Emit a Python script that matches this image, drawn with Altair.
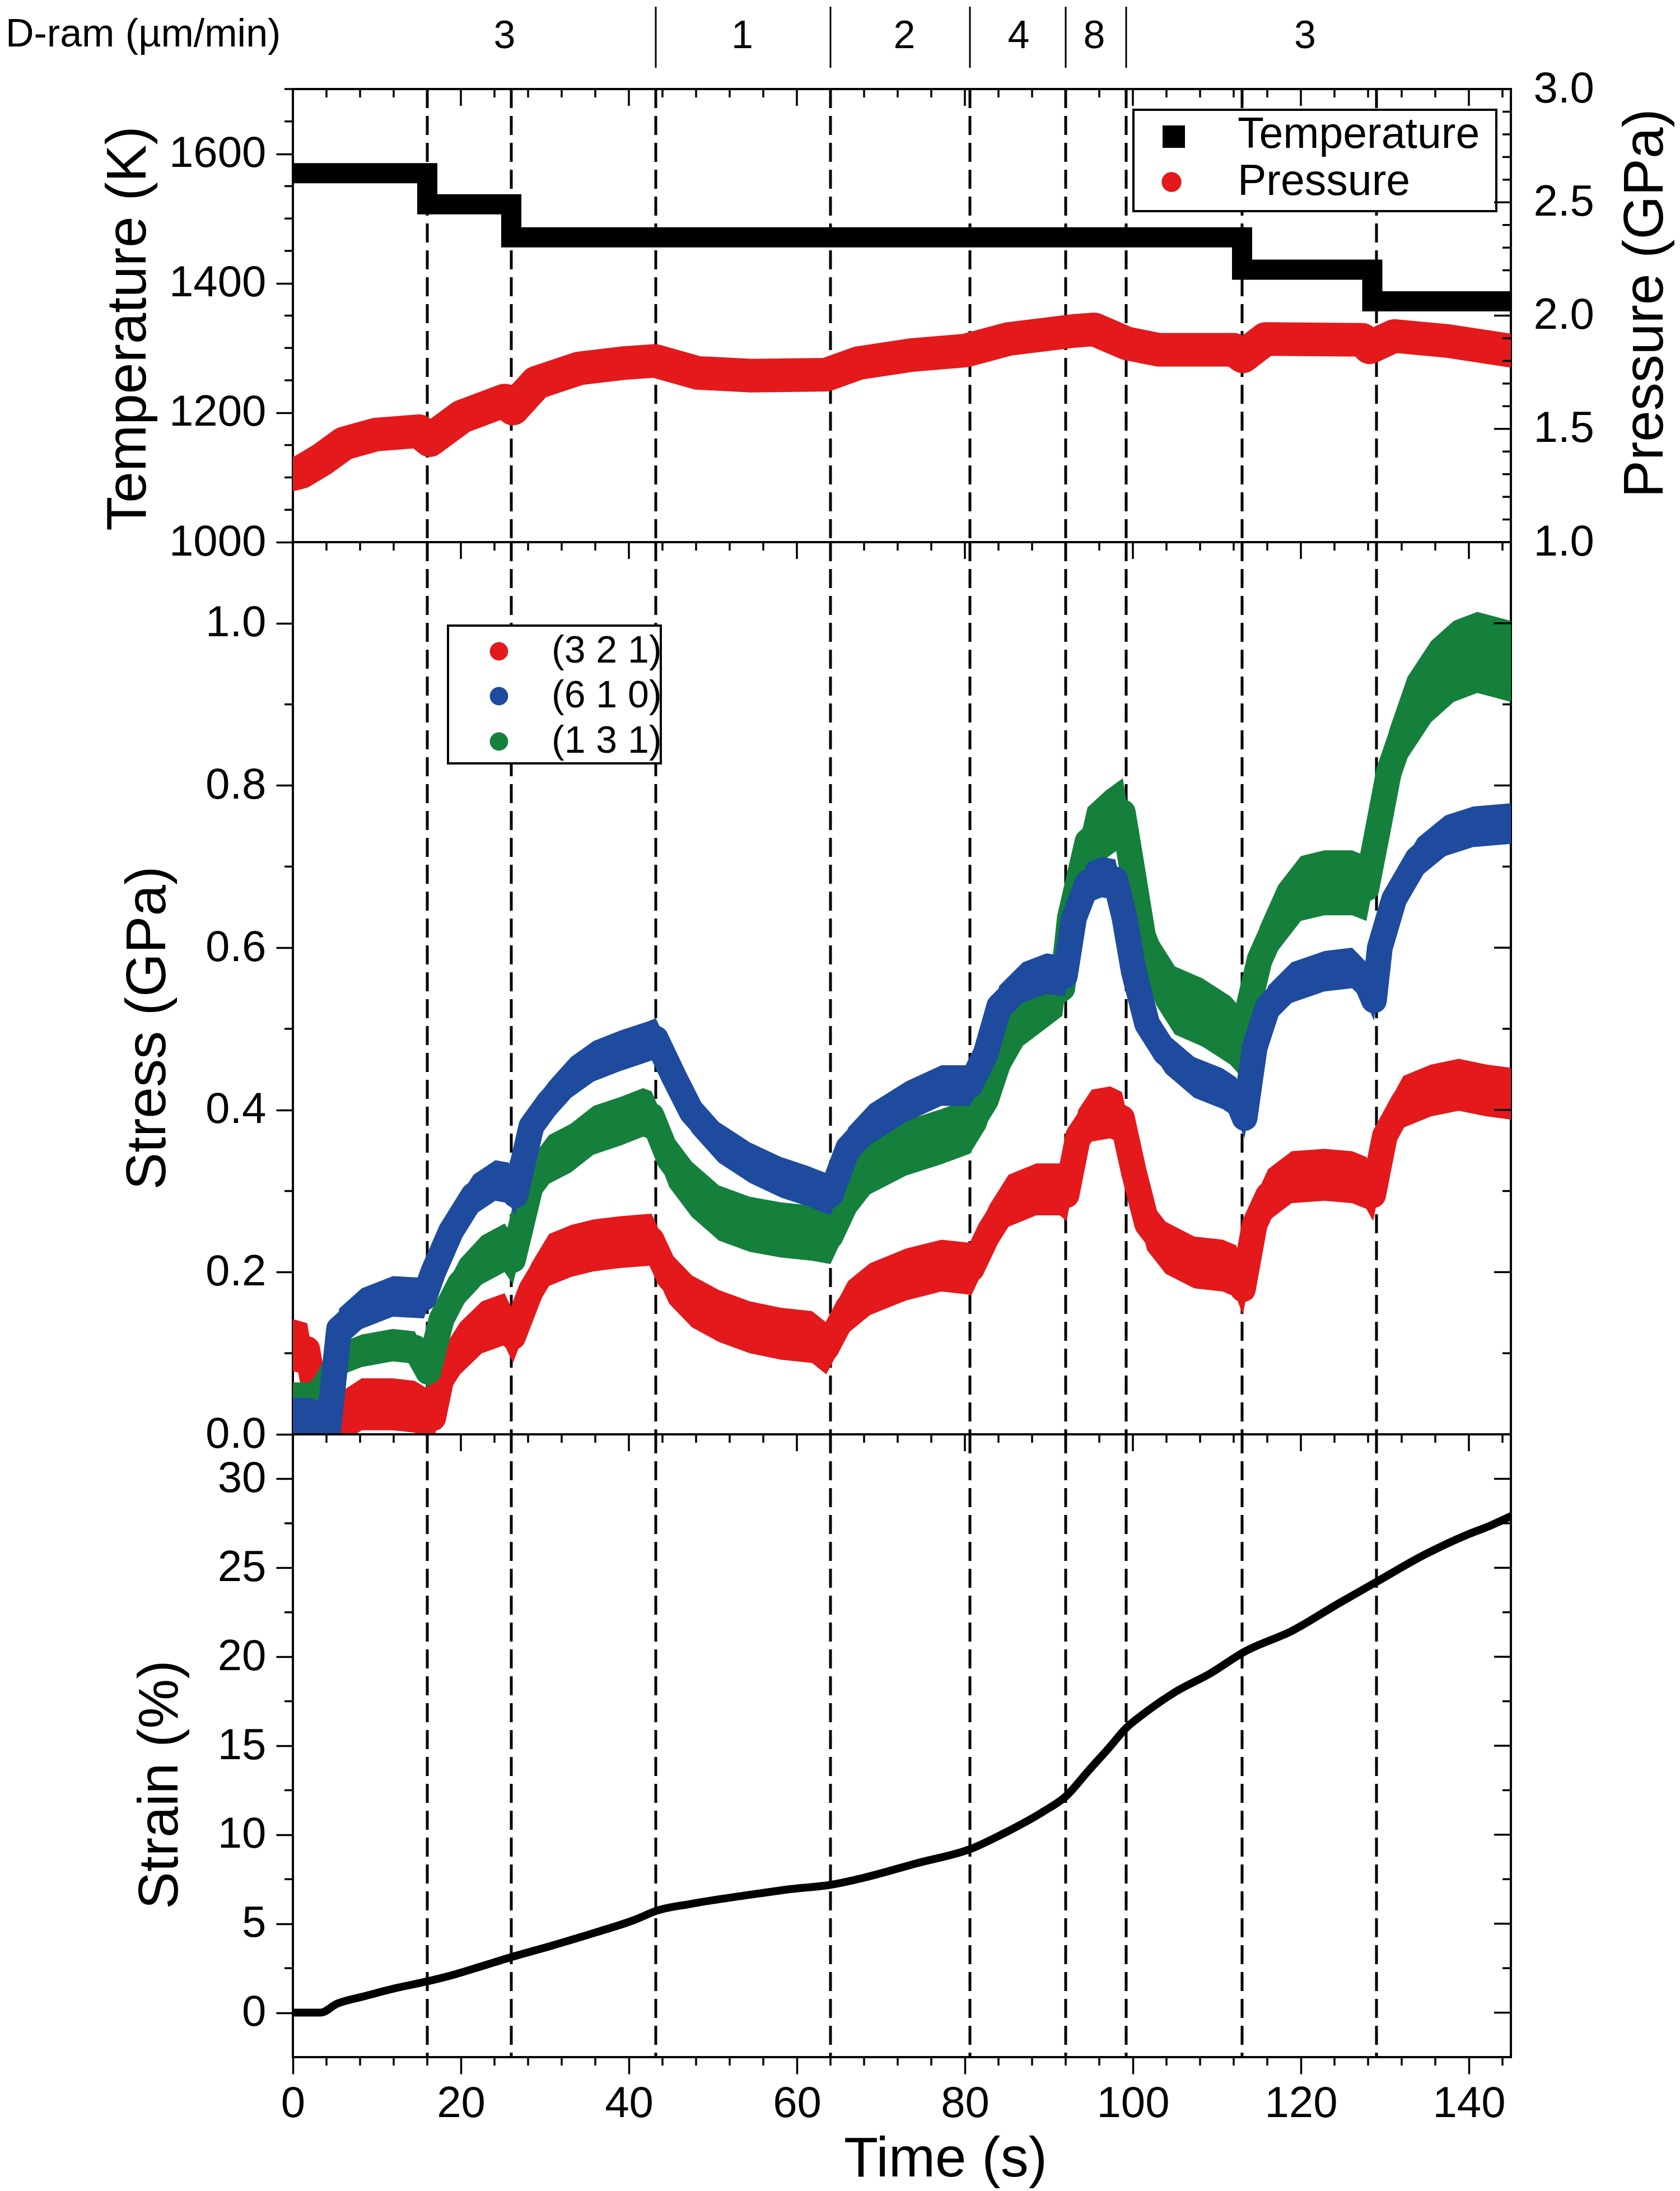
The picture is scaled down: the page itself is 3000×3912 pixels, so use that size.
import altair as alt
import pandas as pd

FONT = "Liberation Sans"
W = 2175
H_TOP, H_MID, H_BOT = 809, 1593, 1112
TW = 3.5
RED = "#E3191C"
BLUE = "#1E4B9E"
GREEN = "#15803C"
U = alt.Undefined

# ---------------- data ----------------
dash_times = [16, 26, 43.2, 64, 80.6, 92, 99.2, 113, 129]
ram_edges = [43.2, 64, 80.6, 92, 99.2]
ram_label_t = [25.2, 53.5, 72.8, 86.4, 95.4, 120.5]
ram_labels = ["3", "1", "2", "4", "8", "3"]
ram_title = ["D-ram (\u00b5m/min)"]

temp_t = [0, 16, 26, 113, 128.5, 145]
temp_k = [1570, 1522, 1471, 1421, 1372, 1372]

press_t = [0, 1, 3.5, 6.1, 9.9, 15, 16.3, 20.1, 25.2, 26.2, 29, 34.1, 39.3, 43.1,
           48.2, 54.6, 63.5, 67.3, 73.7, 80.1, 85.2, 92.9, 95.4, 99.3, 103.1, 112,
           113.1, 115.8, 127.3, 128.2, 131.1, 137.5, 145]
press_gpa = [1.30, 1.31, 1.366, 1.436, 1.475, 1.49, 1.45, 1.554, 1.625, 1.59, 1.704,
             1.767, 1.79, 1.80, 1.747, 1.735, 1.739, 1.79, 1.826, 1.846, 1.897, 1.932,
             1.939, 1.877, 1.849, 1.849, 1.82, 1.897, 1.893, 1.86, 1.91, 1.888, 1.845]

red_t = [0, 1.7, 2.3, 3.9, 5.5, 8.2, 11.9, 14.5, 16.7, 17.7, 19.9, 22.5, 25.2, 26.2,
         28.4, 30.5, 33.1, 35.8, 39, 42.7, 44.8, 47.5, 50.7, 54.4, 58.1, 61.8, 63.5,
         66.1, 68.7, 73, 77.2, 80.8, 83, 85.2, 88.5, 91.3, 92.1, 93.5, 95.1, 97.3,
         98.7, 100.1, 101.7, 103.9, 107.3, 110.7, 112.3, 113.1, 114.5, 116.1, 118.9,
         122.8, 126.1, 127.8, 128.6, 130, 132.2, 135.5, 138.8, 142.1, 145]
red_v = [0.11, 0.105, 0.07, 0.026, 0.019, 0.037, 0.037, 0.034, 0.02, 0.07, 0.106,
         0.132, 0.142, 0.12, 0.179, 0.215, 0.226, 0.233, 0.237, 0.24, 0.193, 0.164,
         0.146, 0.132, 0.124, 0.12, 0.106, 0.157, 0.179, 0.197, 0.208, 0.204, 0.252,
         0.288, 0.302, 0.302, 0.295, 0.368, 0.393, 0.397, 0.39, 0.324, 0.259, 0.23,
         0.212, 0.208, 0.201, 0.179, 0.259, 0.295, 0.317, 0.32, 0.317, 0.31, 0.295,
         0.368, 0.41, 0.424, 0.431, 0.424, 0.42]
red_err = 0.032

blue_t = [0, 2, 3.5, 4.2, 5.5, 8.2, 11.9, 15.6, 16.7, 18.8, 21.5, 24.1, 25.7, 26.5,
          28.4, 30.5, 33.1, 35.8, 39, 42.2, 43.2, 45.4, 47.5, 50.7, 54.4, 58.1, 61.3,
          64, 66.1, 68.7, 73, 77.2, 80.6, 82.5, 84.1, 86.9, 89.7, 91.9, 93, 94.6, 96.3,
          97.9, 99, 100.1, 101.7, 103.9, 107.3, 110.7, 112.3, 113.3, 114.5, 116.1,
          118.9, 122.8, 126.1, 127.8, 128.7, 129.4, 131.1, 133.9, 137.2, 140.5, 145]
blue_v = [0.02, 0.02, 0.015, 0.005, 0.13, 0.155, 0.17, 0.168, 0.2, 0.25, 0.295, 0.313,
          0.31, 0.295, 0.38, 0.41, 0.44, 0.46, 0.473, 0.484, 0.488, 0.44, 0.397, 0.36,
          0.335, 0.317, 0.306, 0.295, 0.353, 0.382, 0.41, 0.43, 0.43, 0.47, 0.528,
          0.557, 0.568, 0.565, 0.637, 0.68, 0.687, 0.684, 0.637, 0.571, 0.506, 0.47,
          0.44, 0.426, 0.415, 0.39, 0.477, 0.528, 0.557, 0.571, 0.575, 0.557, 0.535,
          0.6, 0.66, 0.71, 0.738, 0.749, 0.753]
blue_err = 0.025

green_t = [0, 2.5, 3.9, 5.5, 8.2, 11.9, 14.5, 16.1, 17.7, 19.9, 22.5, 25.2, 26.2, 28.4,
           30.5, 33.1, 35.8, 39, 41.7, 42.7, 44.8, 47.5, 50.7, 54.4, 58.1, 61.8, 64,
           66.6, 68.7, 73, 77.2, 80.6, 82.5, 84.1, 86.9, 89.7, 91.6, 92.5, 94.6, 96.8,
           98.8, 99.6, 101.2, 102.8, 105, 108.3, 111.6, 112.8, 115.1, 117.3, 120, 122.8,
           126.1, 127.8, 128.9, 130.5, 132.7, 135.5, 138.2, 141, 145]
green_v = [0.044, 0.044, 0.063, 0.092, 0.103, 0.11, 0.107, 0.077, 0.142, 0.186, 0.215,
           0.23, 0.215, 0.31, 0.339, 0.353, 0.375, 0.386, 0.397, 0.393, 0.339, 0.302,
           0.273, 0.259, 0.252, 0.248, 0.244, 0.302, 0.33, 0.353, 0.367, 0.38, 0.412,
           0.462, 0.513, 0.535, 0.55, 0.637, 0.731, 0.752, 0.767, 0.717, 0.615, 0.571,
           0.535, 0.52, 0.498, 0.484, 0.586, 0.637, 0.673, 0.68, 0.68, 0.673, 0.731,
           0.818, 0.884, 0.928, 0.953, 0.964, 0.953]
green_err = [0.02, 0.02, 0.02, 0.02, 0.02, 0.02, 0.02, 0.02,
             0.03, 0.03, 0.03, 0.03, 0.03, 0.03, 0.03, 0.03, 0.03, 0.03, 0.03, 0.03,
             0.034, 0.034, 0.034, 0.034, 0.034, 0.034, 0.034, 0.034, 0.034, 0.034,
             0.034,
             0.034, 0.034, 0.034, 0.034, 0.034, 0.034,
             0.042, 0.042, 0.042, 0.042, 0.042, 0.042, 0.042, 0.042, 0.042, 0.042, 0.042,
             0.04, 0.04, 0.04, 0.04, 0.04, 0.04, 0.04,
             0.05, 0.05, 0.05, 0.05, 0.05, 0.05]

strain_t = [0, 3.3, 5.2, 8.5, 11.9, 16, 19.05, 22.4, 26.2, 30.7, 36.2, 40.6, 43.4, 47.2,
            53.9, 59.4, 64.1, 67.7, 74.3, 80.9, 84.9, 89.2, 92, 94.7, 97.3, 99.2, 101.1,
            105, 109.2, 113.2, 119, 124.5, 129, 134.7, 139.8, 142.4, 145]
strain_pct = [0, 0, 0.49, 0.92, 1.34, 1.76, 2.12, 2.6, 3.15, 3.75, 4.53, 5.2, 5.74, 6.1,
              6.59, 6.95, 7.19, 7.55, 8.4, 9.24, 10.14, 11.26, 12.15, 13.59, 14.96, 16.0,
              16.73, 18.01, 19.06, 20.26, 21.47, 23.0, 24.21, 25.73, 26.86, 27.34, 27.9]

legend_top = ["Temperature", "Pressure"]
legend_mid = ["(3 2 1)", "(6 1 0)", "(1 3 1)"]

# tick positions
x_major = [0, 20, 40, 60, 80, 100, 120, 140]
x_minor = [v for v in range(0, 146, 4) if v % 20 != 0]
temp_major = [1000, 1200, 1400, 1600]
temp_minor = [v for v in range(1050, 1701, 50) if v % 200 != 0]
press_major = [1.0, 1.5, 2.0, 2.5, 3.0]
press_minor = [round(1.0 + 0.1 * i, 1) for i in range(21) if i % 5 != 0]
stress_major = [0.0, 0.2, 0.4, 0.6, 0.8, 1.0]
stress_minor = [0.1, 0.3, 0.5, 0.7, 0.9]
strain_major = [0, 5, 10, 15, 20, 25, 30]
strain_minor = [2.5, 7.5, 12.5, 17.5, 22.5, 27.5]

# ---------------- scales ----------------
xs = alt.Scale(domain=[0, 145], nice=False, zero=False)
ys_temp = alt.Scale(domain=[1000, 1700], nice=False, zero=False)
ys_press = alt.Scale(domain=[1.0, 3.0], nice=False, zero=False)
ys_stress = alt.Scale(domain=[0, 1.1], nice=False, zero=False)
ys_strain = alt.Scale(domain=[-2.5, 32.5], nice=False, zero=False)

one = pd.DataFrame({"a": [0]})


def vals(v):
    return pd.DataFrame({"v": v})


def dashes(xax=None):
    return alt.Chart(pd.DataFrame({"t": dash_times})).mark_rule(
        color="black", strokeWidth=5, strokeDash=[34, 14]
    ).encode(x=alt.X("t:Q", scale=xs, axis=xax))


def top_ticks(values, length, xax=None):
    return alt.Chart(vals(values)).mark_rule(color="black", strokeWidth=TW).encode(
        x=alt.X("v:Q", scale=xs, axis=xax), y=alt.value(0), y2=alt.value(length))


def bottom_ticks_out(values, length, h, xax=None):
    return alt.Chart(vals(values)).mark_rule(color="black", strokeWidth=TW).encode(
        x=alt.X("v:Q", scale=xs, axis=xax), y=alt.value(h), y2=alt.value(h + length))


def left_ticks_out(values, length, scale):
    return alt.Chart(vals(values)).mark_rule(color="black", strokeWidth=TW).encode(
        y=alt.Y("v:Q", scale=scale), x=alt.value(-length), x2=alt.value(0))


def right_ticks_in(values, length, scale):
    return alt.Chart(vals(values)).mark_rule(color="black", strokeWidth=TW).encode(
        y=alt.Y("v:Q", scale=scale), x=alt.value(W - length), x2=alt.value(W))


def frame_ticks(yscale, ymin, rmaj, rmin, xax=None):
    return [
        top_ticks(x_major, 30, xax), top_ticks(x_minor, 15, xax),
        left_ticks_out(ymin, 15, yscale),
        right_ticks_in(rmaj, 30, yscale), right_ticks_in(rmin, 15, yscale),
    ]


def legend_text(label, x, y, size):
    return alt.Chart(pd.DataFrame({"label": [label]})).mark_text(
        align="left", baseline="middle", fontSize=size, font=FONT, color="black"
    ).encode(x=alt.value(x), y=alt.value(y), text="label:N")


def legend_symbol(shape, color, size, x, y):
    return alt.Chart(one).mark_point(
        shape=shape, filled=True, size=size, color=color, opacity=1, strokeWidth=0
    ).encode(x=alt.value(x), y=alt.value(y))


def legend_box(x1, x2, y1, y2):
    return alt.Chart(one).mark_rect(fill="white", stroke="black", strokeWidth=4).encode(
        x=alt.value(x1), x2=alt.value(x2), y=alt.value(y1), y2=alt.value(y2))


# ---------------- top panel ----------------
temp_df = pd.DataFrame({"t": temp_t, "k": temp_k})
press_df = pd.DataFrame({"t": press_t, "p": press_gpa})

temp_line = alt.Chart(temp_df).mark_line(
    color="black", strokeWidth=36, interpolate="step-after", strokeCap="butt",
    strokeJoin="miter", clip=True
).encode(
    x=alt.X("t:Q", scale=xs, axis=None),
    y=alt.Y("k:Q", scale=ys_temp, axis=alt.Axis(
        orient="left", values=temp_major, format="d", title="Temperature (K)",
        titleX=-294, titleY=427, titleBaseline="middle")),
)

press_line = alt.Chart(press_df).mark_line(
    color=RED, strokeWidth=60, strokeCap="round", strokeJoin="round", clip=True
).encode(
    x=alt.X("t:Q", scale=xs, axis=None),
    y=alt.Y("p:Q", scale=ys_press, axis=alt.Axis(
        orient="right", values=press_major, format=".1f", ticks=False, tickSize=0,
        labelPadding=40, title="Pressure (GPa)", titleX=240, titleY=382,
        titleAngle=270, titleBaseline="middle")),
)

strip_sep = alt.Chart(pd.DataFrame({"t": ram_edges})).mark_rule(
    color="black", strokeWidth=3
).encode(x=alt.X("t:Q", scale=xs, axis=None), y=alt.value(-147), y2=alt.value(-38))

strip_text = alt.Chart(pd.DataFrame({"t": ram_label_t, "label": ram_labels})).mark_text(
    fontSize=70, font=FONT, baseline="middle", align="center", color="black"
).encode(x=alt.X("t:Q", scale=xs, axis=None), y=alt.value(-94), text="label:N")

dram_title = alt.Chart(pd.DataFrame({"label": ram_title})).mark_text(
    fontSize=70, font=FONT, baseline="middle", align="left", color="black"
).encode(x=alt.value(-513), y=alt.value(-97), text="label:N")

top_left = alt.layer(
    dashes(), temp_line,
    left_ticks_out(temp_minor, 15, ys_temp),
    top_ticks(x_major, 30), top_ticks(x_minor, 15),
    strip_sep, strip_text, dram_title,
    legend_box(1501, 2149, 37, 218),
    legend_symbol("square", "black", 1600, 1573, 85),
    legend_symbol("circle", RED, 1257, 1569, 166),
    legend_text(legend_top[0], 1687, 82, 77),
    legend_text(legend_top[1], 1687, 166, 77),
)
top_right = alt.layer(
    press_line,
    right_ticks_in(press_major, 30, ys_press),
    right_ticks_in(press_minor, 15, ys_press),
)
top = alt.layer(top_left, top_right).resolve_scale(y="independent").properties(
    width=W, height=H_TOP)

# ---------------- middle panel ----------------
def band_df(t, v, err):
    df = pd.DataFrame({"t": t, "s": v})
    e = pd.Series(err if isinstance(err, list) else [err] * len(t))
    df["lo"] = df["s"] - e
    df["hi"] = df["s"] + e
    return df


red_df = band_df(red_t, red_v, red_err)
blue_df = band_df(blue_t, blue_v, blue_err)
green_df = band_df(green_t, green_v, green_err)


def series(df, color, with_axis=False):
    yaxis = alt.Axis(orient="left", values=stress_major, format=".1f",
                     title="Stress (GPa)", titleX=-259, titleY=867,
                     titleBaseline="middle") if with_axis else U
    area = alt.Chart(df).mark_area(color=color, opacity=1, clip=True).encode(
        x=alt.X("t:Q", scale=xs, axis=None),
        y=alt.Y("lo:Q", scale=ys_stress, axis=yaxis),
        y2="hi:Q",
    )
    line = alt.Chart(df).mark_line(
        color=color, strokeWidth=46, strokeCap="round", strokeJoin="round", clip=True
    ).encode(
        x=alt.X("t:Q", scale=xs, axis=None),
        y=alt.Y("s:Q", scale=ys_stress),
    )
    return [area, line]


middle = alt.layer(
    dashes(),
    *series(red_df, RED, with_axis=True),
    *series(green_df, GREEN),
    *series(blue_df, BLUE),
    *frame_ticks(ys_stress, stress_minor, stress_major, stress_minor),
    legend_box(277, 657, 149, 395),
    legend_symbol("circle", RED, 1075, 368, 195),
    legend_symbol("circle", BLUE, 1075, 368, 275),
    legend_symbol("circle", GREEN, 1075, 368, 356),
    legend_text(legend_mid[0], 462, 195, 68),
    legend_text(legend_mid[1], 462, 275, 68),
    legend_text(legend_mid[2], 462, 356, 68),
).properties(width=W, height=H_MID)

# ---------------- bottom panel ----------------
strain_df = pd.DataFrame({"t": strain_t, "e": strain_pct})
strain_line = alt.Chart(strain_df).mark_line(
    color="black", strokeWidth=14, interpolate="monotone", strokeCap="round", clip=True
).encode(
    x=alt.X("t:Q", scale=xs, axis=alt.Axis(
        orient="bottom", values=x_major, format="d", title="Time (s)",
        titleX=1165, titleY=182, titleBaseline="middle", labelPadding=14)),
    y=alt.Y("e:Q", scale=ys_strain, axis=alt.Axis(
        orient="left", values=strain_major, format="d", title="Strain (%)",
        titleX=-237, titleY=625, titleBaseline="middle")),
)

bottom = alt.layer(
    dashes(U), strain_line,
    *frame_ticks(ys_strain, strain_minor, strain_major, strain_minor, U),
    bottom_ticks_out(x_minor, 15, H_BOT, U),
).properties(width=W, height=H_BOT)

chart = alt.vconcat(top, middle, bottom, spacing=0, bounds="flush").resolve_scale(
    y="independent"
).properties(padding=0).configure_view(
    stroke="black", strokeWidth=4
).configure_axis(
    labelFont=FONT, titleFont=FONT, labelFontSize=78, titleFontSize=100,
    labelColor="black", titleColor="black", titleFontWeight="normal",
    grid=False, domain=False, labelFlush=False, labelOverlap=False,
    tickColor="black", tickWidth=TW, tickSize=30, labelPadding=18,
).configure_text(font=FONT)

chart.save("out.html", embed_options={"renderer": "svg", "actions": False})
